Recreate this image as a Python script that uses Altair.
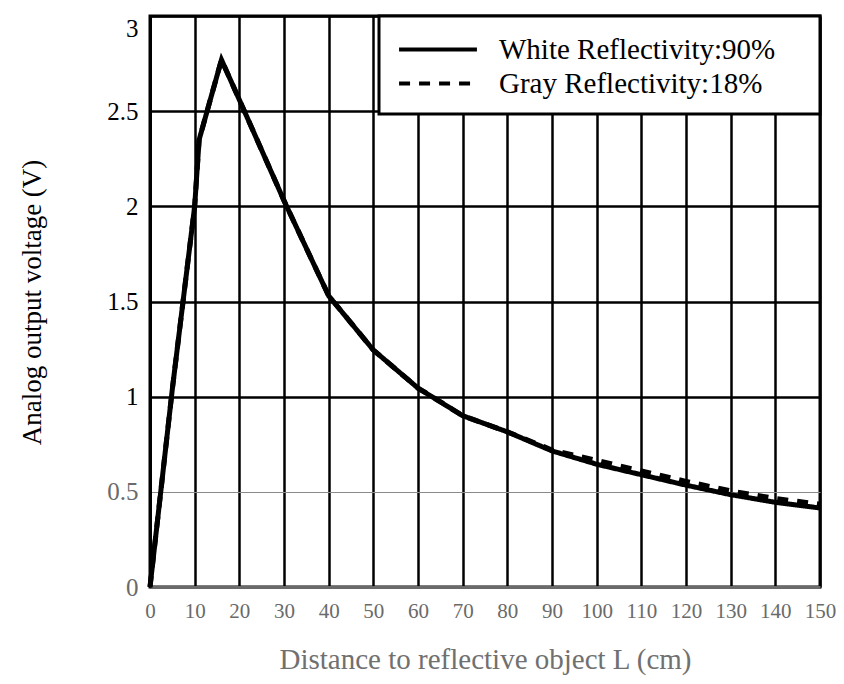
import altair as alt
import pandas as pd

# Distance (cm) and readings (V)
distance = [0, 5, 10, 11, 16, 20, 30, 40, 50, 60, 70, 80, 90, 100, 110, 120, 130, 140, 150]
white_v = [0, 1.04, 2.0, 2.35, 2.77, 2.56, 2.03, 1.53, 1.245, 1.045, 0.90, 0.815, 0.715,
           0.645, 0.59, 0.535, 0.485, 0.445, 0.415]
gray_v = [0, 1.04, 2.0, 2.35, 2.77, 2.56, 2.03, 1.53, 1.245, 1.045, 0.90, 0.815, 0.72,
          0.665, 0.61, 0.555, 0.505, 0.465, 0.435]

series_names = ["White Reflectivity:90%", "Gray Reflectivity:18%"]
x_ticks = list(range(0, 151, 10))
y_ticks = [0, 0.5, 1, 1.5, 2, 2.5, 3]

rows = []
for name, vals in zip(series_names, [white_v, gray_v]):
    for d, v in zip(distance, vals):
        rows.append({"series": name, "distance": d, "voltage": v})
df = pd.DataFrame(rows)

FONT = "Liberation Serif"

chart = alt.Chart(df).mark_line(color="black", strokeWidth=5, strokeJoin="miter").encode(
    x=alt.X("distance:Q",
            scale=alt.Scale(domain=[0, 150], nice=False, zero=False),
            axis=alt.Axis(values=x_ticks, title="Distance to reflective object L (cm)",
                          labelColor="#6a6a6a", titleColor="#707070",
                          domainColor="#6a6a6a", domainWidth=3,
                          labelPadding=13, titleY=72, titleBaseline="middle",
                          titleFontSize=29, labelFontSize=21,
                          labelFlush=False)),
    y=alt.Y("voltage:Q",
            scale=alt.Scale(domain=[0, 3], nice=False),
            axis=alt.Axis(values=y_ticks, format="~g", title="Analog output voltage (V)",
                          labelPadding=12, titleX=-118, titleY=286,
                          titleAngle=-90, titleAlign="center", titleBaseline="middle",
                          titleFontSize=27, labelFontSize=25,
                          domainColor="black", domainWidth=3,
                          labelBaseline={"expr": "datum.value == 3 ? 'top' : 'middle'"},
                          gridColor={"expr": "datum.value == 0.5 ? '#8a8a8a' : 'black'"},
                          gridWidth={"expr": "datum.value == 0.5 ? 1.2 : 2.5"},
                          labelColor={"expr": "datum.value < 0.6 ? '#6a6a6a' : 'black'"},
                          labelFlush=False)),
    strokeDash=alt.StrokeDash("series:N",
                              scale=alt.Scale(domain=series_names, range=[[1, 0], [11, 9]]),
                              legend=alt.Legend(title="\u00a0", titleOrient="right",
                                                titlePadding=30, titleFontSize=8,
                                                orient="top-right", offset=0)),
    order=alt.Order("distance:Q"),
).properties(
    width=670, height=571,
    autosize=alt.AutoSizeParams(type="none"),
    padding={"left": 142, "top": 8, "right": 16, "bottom": 90},
).configure(
    font=FONT,
).configure_view(
    stroke="black", strokeWidth=3,
).configure_axis(
    grid=True, gridColor="black", gridWidth=2.5, ticks=False,
    labelFont=FONT, labelColor="black",
    titleFont=FONT, titleFontWeight="normal", titleColor="black",
).configure_legend(
    labelFont=FONT, labelFontSize=29, labelColor="black", labelLimit=500,
    symbolType="M-2.36,0H2.36", symbolSize=1089, symbolStrokeWidth=4, symbolStrokeColor="black",
    symbolOffset=25.5, labelOffset=42.5, padding=15, rowPadding=0,
    fillColor="white", strokeColor="black", strokeWidth=3,
)

chart.save("out.html", embed_options={"renderer": "svg", "actions": False})
